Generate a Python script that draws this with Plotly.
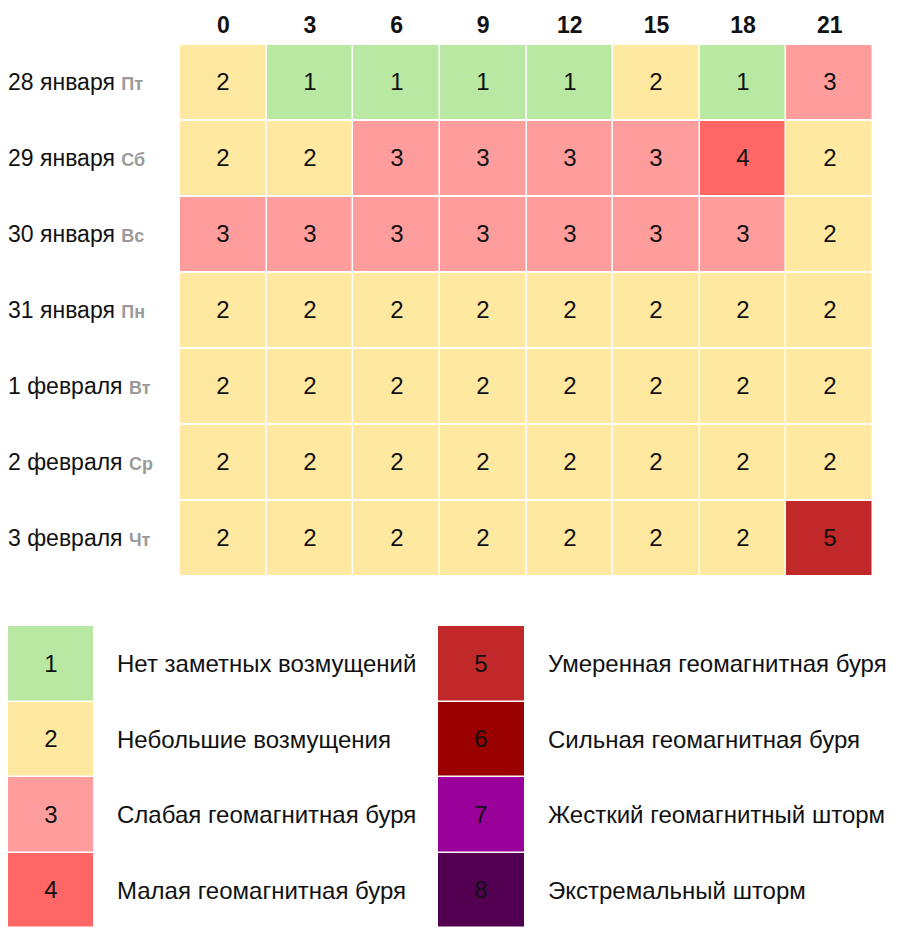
import plotly.graph_objects as go

hours = ["0", "3", "6", "9", "12", "15", "18", "21"]
dates = ["28 января", "29 января", "30 января", "31 января", "1 февраля", "2 февраля", "3 февраля"]
weekdays = ["Пт", "Сб", "Вс", "Пн", "Вт", "Ср", "Чт"]
kp = [
    [2, 1, 1, 1, 1, 2, 1, 3],
    [2, 2, 3, 3, 3, 3, 4, 2],
    [3, 3, 3, 3, 3, 3, 3, 2],
    [2, 2, 2, 2, 2, 2, 2, 2],
    [2, 2, 2, 2, 2, 2, 2, 2],
    [2, 2, 2, 2, 2, 2, 2, 2],
    [2, 2, 2, 2, 2, 2, 2, 5],
]
levels = [1, 2, 3, 4, 5, 6, 7, 8]
level_names = [
    "Нет заметных возмущений",
    "Небольшие возмущения",
    "Слабая геомагнитная буря",
    "Малая геомагнитная буря",
    "Умеренная геомагнитная буря",
    "Сильная геомагнитная буря",
    "Жесткий геомагнитный шторм",
    "Экстремальный шторм",
]
level_colors = ["#b8e8a2", "#ffe8a0", "#ff9d9d", "#ff6666", "#c0282a", "#9b0000", "#9a009a", "#540052"]

W, H = 904, 946
OFF = 8  # page body margin
FONT = "Arial, Liberation Sans, sans-serif"

cs = []
n = len(level_colors)
for i, c in enumerate(level_colors):
    cs.append([i / n, c])
    cs.append([(i + 1) / n, c])

def px(xp):
    return (xp - OFF) / W

def py(yp):
    return 1 - (yp - OFF) / H

fig = go.Figure()
fig.add_trace(go.Heatmap(
    z=kp, x=hours, y=dates, colorscale=cs, zmin=0.5, zmax=8.5, showscale=False,
    xgap=1.5, ygap=2, texttemplate="%{z}", textfont=dict(size=24, color="#111", family=FONT),
    hoverinfo="skip", xaxis="x", yaxis="y",
))

left = levels[:4]
right = levels[4:]
rows = [0, 1, 2, 3]
fig.add_trace(go.Heatmap(
    z=[[v] for v in left], x=[0], y=rows, colorscale=cs, zmin=0.5, zmax=8.5,
    showscale=False, ygap=1.5, texttemplate="%{z}", textfont=dict(size=24, color="#111", family=FONT),
    hoverinfo="skip", xaxis="x2", yaxis="y2",
))
fig.add_trace(go.Heatmap(
    z=[[v] for v in right], x=[0], y=rows, colorscale=cs, zmin=0.5, zmax=8.5,
    showscale=False, ygap=1.5, texttemplate="%{z}", textfont=dict(size=24, color="#111", family=FONT),
    hoverinfo="skip", xaxis="x3", yaxis="y3",
))

annotations = []
for d, wd in zip(dates, weekdays):
    annotations.append(dict(
        text=f"{d} <b><span style='color:#9a9a9a;font-size:18px'>{wd}</span></b>",
        xref="paper", yref="y", x=px(6), y=d, xanchor="left", yanchor="middle",
        showarrow=False, font=dict(size=23, color="#111", family=FONT),
    ))
for r, name in zip(rows, level_names[:4]):
    annotations.append(dict(text=name, xref="paper", yref="y2", x=px(115), y=r,
                            xanchor="left", yanchor="middle", showarrow=False,
                            font=dict(size=24, color="#111", family=FONT)))
for r, name in zip(rows, level_names[4:]):
    annotations.append(dict(text=name, xref="paper", yref="y3", x=px(546), y=r,
                            xanchor="left", yanchor="middle", showarrow=False,
                            font=dict(size=24, color="#111", family=FONT)))

fig.update_layout(
    width=W, height=H, margin=dict(l=0, r=0, t=0, b=0),
    paper_bgcolor="white", plot_bgcolor="white",
    font=dict(family=FONT),
    xaxis=dict(domain=[px(180), px(873)], side="top", showgrid=False, zeroline=False,
               tickfont=dict(size=23, color="#111", family=FONT, weight="bold"),
               ticks="", ticklabelstandoff=5, anchor="y"),
    yaxis=dict(domain=[py(576), py(44)], autorange="reversed", showticklabels=False,
               showgrid=False, zeroline=False, anchor="x"),
    xaxis2=dict(domain=[px(8), px(93)], showticklabels=False, showgrid=False, zeroline=False, anchor="y2"),
    yaxis2=dict(domain=[py(928), py(626)], autorange="reversed", showticklabels=False,
                showgrid=False, zeroline=False, anchor="x2"),
    xaxis3=dict(domain=[px(438), px(524)], showticklabels=False, showgrid=False, zeroline=False, anchor="y3"),
    yaxis3=dict(domain=[py(928), py(626)], autorange="reversed", showticklabels=False,
                showgrid=False, zeroline=False, anchor="x3"),
    annotations=annotations,
)

fig.write_html("out.html")
